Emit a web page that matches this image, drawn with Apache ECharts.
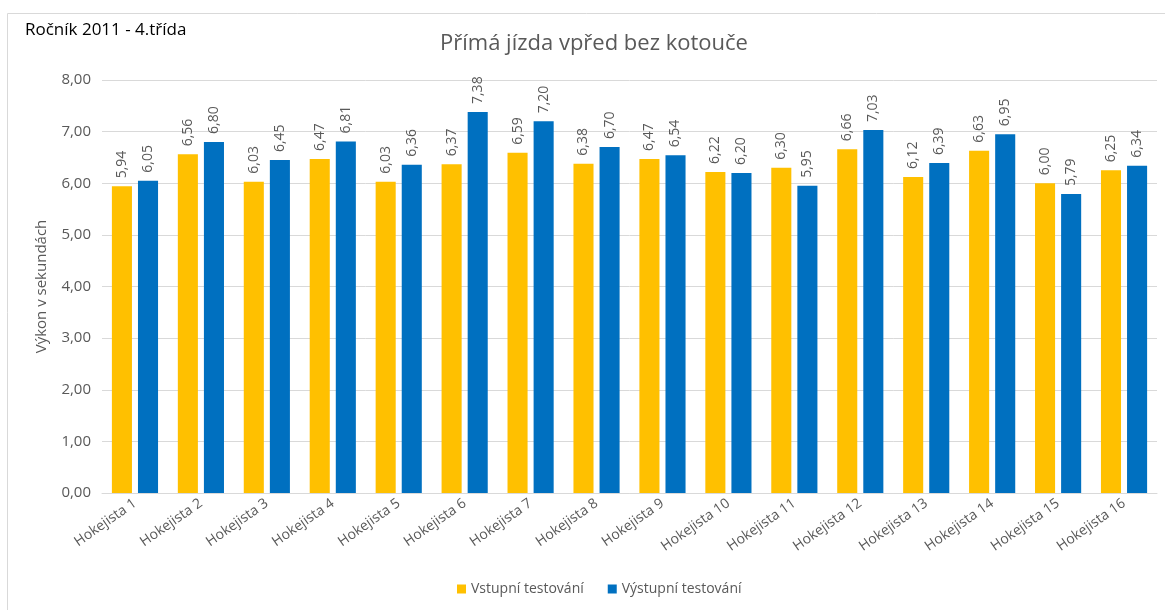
<!DOCTYPE html>
<html>
<head>
<meta charset="utf-8">
<script src="https://cdn.jsdelivr.net/npm/echarts@6/dist/echarts.min.js"></script>
<style>
  html, body { margin: 0; padding: 0; background: #fff; }
  #chart { width: 1165px; height: 610px; }
</style>
</head>
<body>
<div id="chart"></div>
<script>
// Hráči (kategorie osy X)
const categories = [
  'Hokejista 1', 'Hokejista 2', 'Hokejista 3', 'Hokejista 4',
  'Hokejista 5', 'Hokejista 6', 'Hokejista 7', 'Hokejista 8',
  'Hokejista 9', 'Hokejista 10', 'Hokejista 11', 'Hokejista 12',
  'Hokejista 13', 'Hokejista 14', 'Hokejista 15', 'Hokejista 16'
];
// Časy v sekundách
const vstupni = [5.94, 6.56, 6.03, 6.47, 6.03, 6.37, 6.59, 6.38, 6.47, 6.22, 6.30, 6.66, 6.12, 6.63, 6.00, 6.25];
const vystupni = [6.05, 6.80, 6.45, 6.81, 6.36, 7.38, 7.20, 6.70, 6.54, 6.20, 5.95, 7.03, 6.39, 6.95, 5.79, 6.34];
const seriesNames = ['Vstupní testování', 'Výstupní testování'];

const fmt = v => v.toFixed(2).replace('.', ',');
const FONT = '"Open Sans", "Noto Sans", sans-serif';
const GRAY = '#595959';

const chart = echarts.init(document.getElementById('chart'), null, { renderer: 'canvas' });

const labelCfg = {
  show: true,
  position: 'top',
  rotate: 90,
  align: 'left',
  verticalAlign: 'middle',
  distance: 8,
  color: GRAY,
  fontFamily: FONT,
  fontSize: 14,
  formatter: p => fmt(p.value)
};

chart.setOption({
  animation: false,
  textStyle: { fontFamily: FONT },
  graphic: [
    {
      type: 'rect',
      shape: { x: 7.5, y: 13.5, width: 1170, height: 610 },
      style: { fill: 'none', stroke: '#d9d9d9', lineWidth: 1 },
      silent: true
    },
    {
      type: 'text',
      left: 25, top: 22,
      style: { text: 'Ročník 2011 - 4.třída', fill: '#000', font: '17px ' + FONT }
    }
  ],
  title: {
    text: 'Přímá jízda vpřed bez kotouče',
    left: 435,
    top: 28,
    textStyle: { color: GRAY, fontFamily: FONT, fontSize: 22, fontWeight: 'normal' }
  },
  legend: {
    data: seriesNames,
    bottom: 9,
    left: 452,
    itemWidth: 9,
    itemHeight: 9,
    itemGap: 24,
    icon: 'rect',
    textStyle: { color: GRAY, fontFamily: FONT, fontSize: 14 }
  },
  grid: { left: 102, right: 8, top: 80, bottom: 117 },
  xAxis: {
    type: 'category',
    data: categories,
    axisLine: { lineStyle: { color: '#d9d9d9' } },
    axisTick: { show: false },
    axisLabel: { rotate: 35, color: GRAY, fontFamily: FONT, fontSize: 14, margin: 9, interval: 0 }
  },
  yAxis: {
    type: 'value',
    min: 0, max: 8, interval: 1,
    name: 'Výkon v sekundách',
    nameLocation: 'middle',
    nameGap: 53,
    nameTextStyle: { color: GRAY, fontFamily: FONT, fontSize: 15 },
    axisLine: { show: false },
    axisTick: { show: false },
    splitLine: { lineStyle: { color: '#d9d9d9' } },
    axisLabel: { color: GRAY, fontFamily: FONT, fontSize: 15, margin: 11, formatter: v => fmt(v) }
  },
  series: [
    {
      name: seriesNames[0],
      type: 'bar',
      data: vstupni,
      barGap: '30%',
      barCategoryGap: '30%',
      itemStyle: { color: '#ffc000' },
      label: labelCfg
    },
    {
      name: seriesNames[1],
      type: 'bar',
      data: vystupni,
      itemStyle: { color: '#0070c0' },
      label: labelCfg
    }
  ]
});
</script>
</body>
</html>
